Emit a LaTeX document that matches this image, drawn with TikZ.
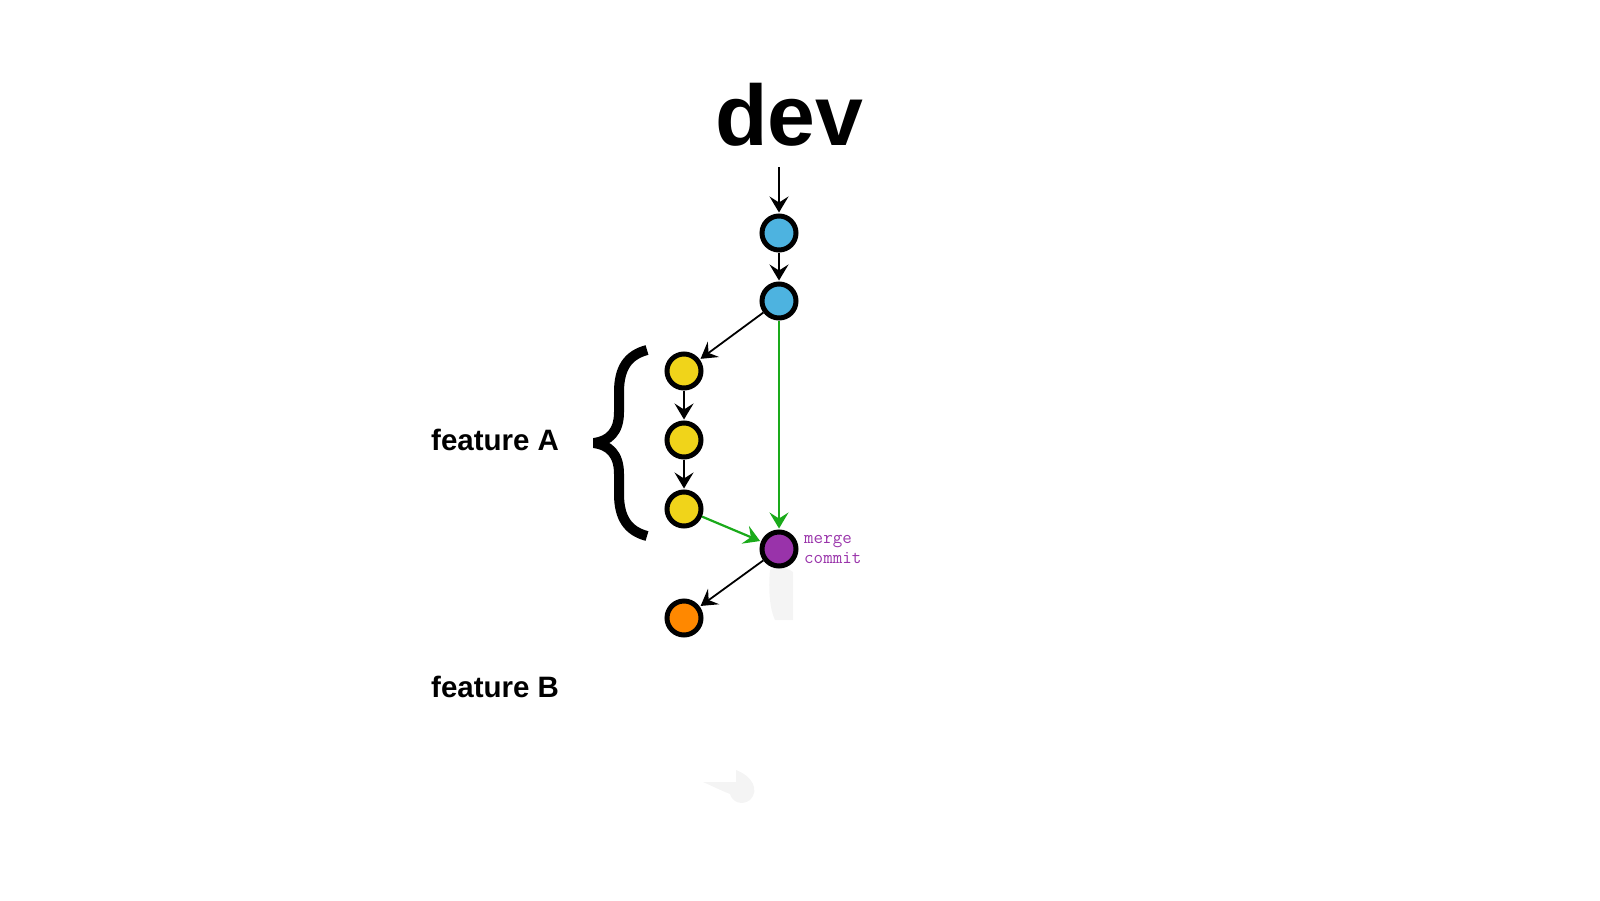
\documentclass[tikz,border=0pt]{standalone}
\usepackage{fontspec}
\setmainfont{Liberation Sans}
\usetikzlibrary{arrows.meta}
\definecolor{cblue}{HTML}{4DB3E0}
\definecolor{cyellow}{HTML}{F0D41A}
\definecolor{cpurple}{HTML}{9933AA}
\definecolor{corange}{HTML}{FF8800}
\definecolor{cgreen}{HTML}{1AAA1A}
\definecolor{cghost}{HTML}{F4F4F4}
\tikzset{
  commit/.style={circle, draw=black, line width=5pt, minimum size=34pt, inner sep=0pt},
  blue commit/.style={commit, fill=cblue},
  yellow commit/.style={commit, fill=cyellow},
  purple commit/.style={commit, fill=cpurple},
  orange commit/.style={commit, fill=corange},
  tip/.style={-{Stealth[length=16pt,width=19pt,inset=6pt]}},
  link/.style={line width=1.8pt, draw=black, tip, shorten >=1pt},
  merge link/.style={line width=2.2pt, draw=cgreen, tip, shorten >=1pt},
  label text/.style={font=\bfseries\fontsize{29.5}{34}\selectfont, inner sep=0pt},
}
\begin{document}
\begin{tikzpicture}[x=1pt,y=-1pt]
\useasboundingbox (0,0) rectangle (1600,900);
% faint ghost marks
\fill[cghost] (770,570) .. controls (768,590) and (770,610) .. (775,620) -- (793,620) -- (793,572) .. controls (785,566) and (775,566) .. (770,570) -- cycle;
\fill[cghost] (703,782) -- (736,782) -- (736,770) .. controls (752,776) and (760,790) .. (750,800) .. controls (742,806) and (732,802) .. (730,794) .. controls (720,790) and (712,786) .. (703,782) -- cycle;

\node[font=\bfseries\fontsize{86}{100}\selectfont, inner sep=0pt, anchor=base] (dev) at (789.5,145) {dev};
\coordinate (devstart) at (779,167);

\node[blue commit] (b1) at (779,233) {};
\node[blue commit] (b2) at (779,301) {};
\node[yellow commit] (y1) at (684,371) {};
\node[yellow commit] (y2) at (684,440) {};
\node[yellow commit] (y3) at (684,509) {};
\node[purple commit] (m) at (779,549) {};
\node[orange commit] (o) at (684,618) {};

\node[font=\ttfamily\fontsize{18.5}{20}\selectfont, text=cpurple, align=left, inner sep=0pt, anchor=west] (mlabel) at (804,549) {merge\\commit};

% curly brace
\draw[line width=10pt, line join=bevel, line cap=butt]
  (647,350) .. controls (628,355) and (619,368) .. (619,392)
  -- (619,412) .. controls (619,432) and (609,441) .. (594,443)
  .. controls (609,445) and (619,454) .. (619,474)
  -- (619,494) .. controls (619,518) and (628,531) .. (647,536);

\node[label text, anchor=base west] (fa) at (431,450) {feature A};
\node[label text, anchor=base west] (fb) at (431,697) {feature B};

\draw[link] (devstart) -- (b1);
\draw[link] (b1) -- (b2);
\draw[link] (b2) -- (y1);
\draw[link] (y1) -- (y2);
\draw[link] (y2) -- (y3);
\draw[merge link] (b2) -- (m);
\draw[merge link] (y3) -- (m);
\draw[link] (m) -- (o);
\end{tikzpicture}
\end{document}
